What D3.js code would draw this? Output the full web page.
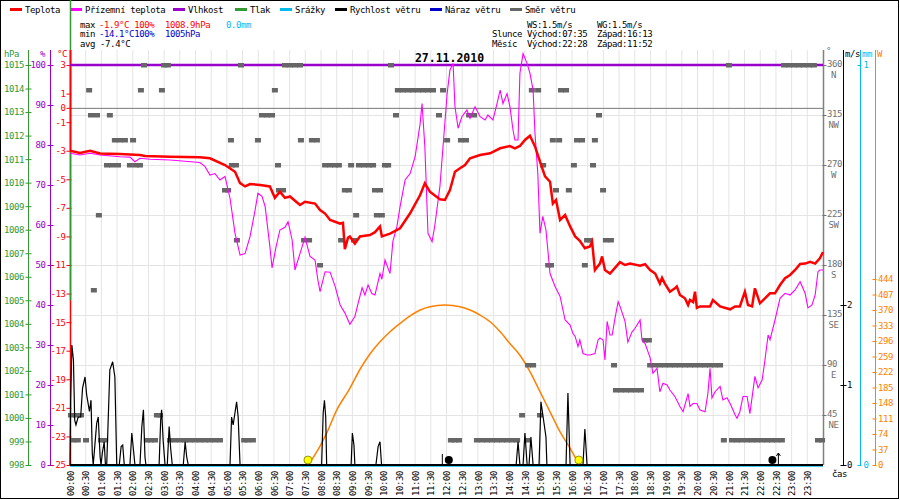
<!DOCTYPE html>
<html>
<head>
<meta charset="utf-8">
<script src="https://cdn.jsdelivr.net/npm/d3@7"></script>
<style>
body { margin: 0; background: #fff; overflow: hidden; }
svg { display: block; }
svg text { font-family: "DejaVu Sans Mono", monospace; font-size: 9px; letter-spacing: -0.4px; }
</style>
</head>
<body>
<div id="chart"></div>
<script>
// series as [hour of day, value]
var temperature = [[0,-3.0],[0.32,-3.16],[0.64,-3.0],[0.96,-3.2],[1.59,-3.23],[2.23,-3.3],[2.39,-3.37],[3.19,-3.42],[4.14,-3.46],[4.46,-3.53],
  [4.94,-4.0],[5.26,-4.47],[5.42,-5.27],[5.58,-5.5],[5.74,-5.33],[6.06,-5.4],[6.37,-5.5],[6.53,-6.3],[6.69,-5.87],[6.85,-6.3],
  [7.01,-6.2],[7.33,-6.8],[7.49,-6.57],[7.81,-6.7],[7.97,-7.15],[8.13,-7.4],[8.29,-7.85],[8.45,-7.97],[8.61,-8.1],[8.70,-8.05],
  [8.76,-9.9],[8.86,-9.1],[8.92,-9.0],[9.08,-9.5],[9.24,-9.0],[9.56,-8.9],[9.72,-8.7],[9.88,-8.3],[9.94,-9.0],[10.20,-8.8],
  [10.52,-8.43],[10.84,-7.38],[11.16,-6.1],[11.31,-5.28],[11.47,-5.87],[11.79,-6.4],[11.95,-6.45],[12.11,-5.75],[12.27,-4.47],[12.43,-4.23],
  [12.59,-4.0],[12.75,-3.53],[13.07,-3.3],[13.39,-3.18],[13.71,-2.83],[14.02,-2.67],[14.18,-2.83],[14.34,-2.67],[14.50,-2.25],[14.66,-1.95],
  [14.82,-2.7],[14.98,-3.77],[15.14,-4.8],[15.30,-5.17],[15.39,-6.7],[15.49,-6.45],[15.62,-7.85],[15.78,-7.5],[15.94,-8.3],[16.10,-9.0],
  [16.25,-9.3],[16.41,-9.83],[16.57,-9.7],[16.64,-9.37],[16.73,-11.35],[16.89,-10.9],[16.96,-10.4],[17.05,-11.35],[17.21,-11.6],[17.37,-11.2],
  [17.53,-10.8],[17.69,-11.0],[17.85,-10.9],[18.17,-11.05],[18.33,-10.95],[18.49,-11.35],[18.65,-11.6],[18.80,-12.3],[18.87,-11.9],[18.96,-12.3],
  [19.12,-12.87],[19.28,-12.63],[19.34,-12.5],[19.44,-13.1],[19.60,-13.33],[19.70,-13.8],[19.76,-13.45],[19.86,-13.6],[19.92,-12.87],[19.98,-14.0],
  [20.08,-13.9],[20.40,-13.9],[20.49,-13.45],[20.72,-13.9],[21.04,-14.1],[21.20,-13.9],[21.35,-13.9],[21.51,-12.87],[21.61,-13.8],[21.74,-13.9],
  [21.83,-12.63],[21.99,-13.68],[22.15,-13.33],[22.31,-12.98],[22.47,-12.98],[22.63,-12.4],[22.79,-11.93],[22.95,-11.7],[23.11,-11.35],[23.27,-10.93],
  [23.43,-10.9],[23.59,-10.77],[23.75,-10.9],[23.90,-10.53],[24.00,-10.1]];

var feelsLike = [[0,-3.18],[0.32,-3.3],[0.64,-3.18],[0.96,-3.3],[1.59,-3.42],[1.91,-3.45],[2.07,-3.77],[2.23,-3.53],[2.55,-3.6],[3.19,-3.65],
  [4.14,-3.83],[4.30,-4.1],[4.46,-4.7],[4.62,-4.6],[4.78,-5.05],[4.94,-4.8],[5.10,-6.33],[5.26,-8.78],[5.42,-10.3],[5.58,-10.2],
  [5.74,-9.0],[5.90,-7.15],[5.99,-5.98],[6.12,-6.2],[6.22,-6.92],[6.37,-9.7],[6.44,-11.2],[6.57,-9.7],[6.69,-8.55],[6.85,-8.36],
  [6.95,-7.97],[7.08,-9.25],[7.17,-11.35],[7.33,-10.2],[7.49,-9.06],[7.65,-10.4],[7.81,-10.65],[7.90,-12.05],[7.97,-12.87],[8.13,-11.47],
  [8.29,-11.5],[8.45,-12.5],[8.61,-13.8],[8.76,-14.35],[8.92,-15.15],[9.08,-14.6],[9.18,-13.7],[9.31,-12.6],[9.40,-13.1],[9.50,-12.4],
  [9.62,-13.0],[9.72,-13.1],[9.88,-11.6],[9.94,-12.0],[10.04,-10.65],[10.20,-11.6],[10.29,-9.37],[10.42,-8.3],[10.52,-6.92],[10.68,-5.05],
  [10.84,-4.6],[11.00,-3.42],[11.16,-1.1],[11.22,0.3],[11.31,-2.7],[11.41,-8.78],[11.54,-9.37],[11.63,-8.2],[11.79,-5.5],[11.89,-2.7],
  [12.02,1.0],[12.11,2.65],[12.21,3.1],[12.27,0.08],[12.37,-1.43],[12.49,-0.62],[12.65,-0.15],[12.75,-0.73],[12.91,0.08],[13.07,-0.62],
  [13.23,-0.85],[13.32,-0.5],[13.48,-0.85],[13.61,0.3],[13.71,1.25],[13.80,0.3],[13.93,1.0],[14.02,0.1],[14.12,-1.55],[14.18,-2.25],
  [14.28,-2.25],[14.34,2.42],[14.44,3.8],[14.57,3.1],[14.66,2.42],[14.76,1.25],[14.82,-1.78],[14.91,-4.58],[14.98,-8.78],[15.07,-7.6],
  [15.17,-8.55],[15.30,-11.6],[15.46,-12.5],[15.62,-13.2],[15.78,-14.85],[15.94,-15.2],[16.03,-15.8],[16.10,-16.0],[16.19,-16.7],[16.25,-16.25],
  [16.35,-17.2],[16.48,-17.3],[16.57,-17.3],[16.73,-17.2],[16.83,-16.25],[16.89,-16.1],[16.99,-16.25],[17.05,-17.65],[17.12,-14.95],[17.21,-15.9],
  [17.28,-15.9],[17.37,-14.73],[17.47,-13.57],[17.53,-13.9],[17.69,-14.95],[17.78,-16.4],[17.91,-15.7],[18.01,-15.43],[18.17,-14.85],[18.23,-16.25],
  [18.33,-16.5],[18.49,-17.5],[18.58,-18.58],[18.71,-18.23],[18.80,-19.87],[18.90,-19.28],[19.03,-19.4],[19.12,-19.75],[19.28,-20.2],[19.44,-20.9],
  [19.54,-21.27],[19.70,-20.0],[19.76,-20.9],[19.86,-20.7],[19.98,-20.7],[20.08,-21.15],[20.24,-21.27],[20.33,-20.0],[20.40,-18.23],[20.46,-20.3],
  [20.56,-19.87],[20.72,-19.5],[20.81,-20.45],[20.94,-20.3],[21.04,-20.7],[21.20,-21.5],[21.26,-21.73],[21.35,-21.27],[21.45,-20.2],[21.58,-20.2],
  [21.67,-21.4],[21.83,-18.8],[21.93,-19.6],[22.06,-19.05],[22.15,-17.65],[22.25,-15.9],[22.31,-16.25],[22.47,-14.85],[22.63,-13.33],[22.79,-12.98],
  [22.95,-13.1],[23.11,-12.75],[23.27,-12.17],[23.43,-12.98],[23.52,-14.0],[23.65,-13.8],[23.75,-13.1],[23.84,-11.47],[23.90,-11.35],[24.00,-11.35]];

var humidity = [[0,100],[24,100]];
var rain = [[0,0],[24,0]];
var pressureStart = [0, 1005];

var windSpeed = [[0,0],[0.02,0.81],[0.06,1.5],[0.11,1.31],[0.15,0.56],[0.19,0.5],[0.26,0.6],[0.34,0.6],[0.40,0.96],[0.48,1.1],
  [0.53,0.88],[0.62,0.67],[0.67,0.81],[0.71,0.15],[0.74,0],[0.85,0.52],[0.90,0.6],[0.96,0.1],[0.99,0],[1.03,0.15],
  [1.09,0.29],[1.13,0],[1.17,0],[1.27,1.19],[1.36,1.29],[1.43,1.1],[1.49,0],[1.57,0],[1.63,0.23],[1.68,0.25],
  [1.73,0],[1.91,0],[1.97,0.4],[2.02,0.2],[2.07,0],[2.23,0],[2.29,0.48],[2.34,0.69],[2.39,0.1],[2.42,0],
  [2.84,0],[2.89,0.56],[2.92,0.69],[2.97,0.3],[3.03,0],[3.10,0],[3.16,0.48],[3.21,0.2],[3.26,0],[3.61,0],
  [3.67,0.29],[3.72,0.1],[3.77,0],[5.10,0],[5.15,0.6],[5.20,0.5],[5.31,0.79],[5.36,0.6],[5.42,0],[8.02,0],
  [8.07,0.65],[8.11,0.81],[8.15,0.6],[8.18,0],[8.96,0],[9.00,0.4],[9.05,0.25],[9.08,0],[9.75,0],[9.82,0.23],
  [9.88,0.29],[9.93,0],[14.22,0],[14.28,0.29],[14.34,0],[14.44,0],[14.50,0.4],[14.57,0],[14.63,0],[14.69,0.35],
  [14.76,0],[14.95,0],[15.01,0.79],[15.08,0.6],[15.17,0.35],[15.20,0],[15.81,0],[15.87,0.9],[15.94,0],[16.35,0],
  [16.41,0.45],[16.48,0],[24,0]];

var windDir = [[0.03,45],[0.10,22.5],[0.19,45],[0.25,22.5],[0.35,45],[0.51,22.5],[0.61,337.5],[0.67,315],[0.76,157.5],[0.86,315],
  [0.92,225],[0.99,22.5],[1.12,22.5],[1.18,270],[1.27,315],[1.34,270],[1.43,292.5],[1.53,270],[1.59,292.5],[1.75,292.5],
  [1.91,270],[2.01,292.5],[2.10,270],[2.23,270],[2.26,337.5],[2.36,360],[2.45,22.5],[2.58,22.5],[2.71,22.5],[2.77,45],
  [2.87,45],[2.93,337.5],[3.00,360],[3.12,360],
  [3.19,22.5],[3.35,22.5],[3.51,22.5],[3.67,22.5],[3.82,22.5],[3.98,22.5],[4.14,22.5],[4.30,22.5],[4.46,22.5],[4.62,22.5],[4.78,22.5],
  [4.94,247.5],[5.04,247.5],[5.13,292.5],[5.16,270],[5.29,270],[5.32,202.5],[5.45,360],[5.55,22.5],[5.67,22.5],[5.83,22.5],
  [5.99,292.5],[6.12,315],[6.28,315],[6.44,315],[6.53,337.5],[6.63,270],[6.66,247.5],[6.79,247.5],[6.85,360],[7.01,360],
  [7.17,360],[7.33,360],[7.36,292.5],[7.46,202.5],[7.62,202.5],[7.71,292.5],[7.87,292.5],[7.97,180],[8.13,270],[8.29,270],
  [8.45,270],[8.57,270],[8.64,202.5],[8.76,247.5],[8.89,247.5],[8.96,270],[9.05,202.5],[9.12,225],[9.21,270],[9.37,270],
  [9.53,270],[9.66,270],[9.72,247.5],[9.78,225],[9.88,247.5],[9.94,225],[10.04,270],[10.14,270],[10.23,360],[10.39,315],
  [10.45,337.5],[10.61,337.5],[10.77,337.5],[10.93,337.5],[11.09,337.5],[11.25,337.5],[11.41,337.5],[11.57,337.5],
  [11.76,315],[11.89,337.5],[12.02,292.5],[12.14,22.5],[12.27,22.5],[12.40,22.5],[12.46,292.5],[12.62,292.5],[12.72,315],[12.88,315],
  [12.97,22.5],[13.13,22.5],[13.29,22.5],[13.45,22.5],[13.61,22.5],[13.77,22.5],[13.93,22.5],[14.09,22.5],[14.25,22.5],
  [14.41,45],[14.57,22.5],[14.60,90],[14.72,337.5],[14.76,90],[14.92,337.5],[14.98,45],[15.08,270],[15.24,180],[15.33,180],
  [15.39,292.5],[15.49,247.5],[15.59,292.5],[15.65,337.5],[15.81,337.5],[15.90,247.5],[16.06,270],[16.16,292.5],[16.32,292.5],[16.41,180],
  [16.48,202.5],[16.57,202.5],[16.67,270],[16.73,292.5],[16.86,315],[16.99,247.5],[17.08,202.5],[17.24,202.5],[17.34,90],
  [17.40,67.5],[17.56,67.5],[17.72,67.5],[17.88,67.5],[18.04,67.5],[18.20,67.5],[18.33,112.5],[18.45,112.5],
  [18.49,90],[18.65,90],[18.80,90],[18.96,90],[19.12,90],[19.28,90],[19.44,90],[19.60,90],[19.76,90],[19.92,90],
  [20.08,90],[20.24,90],[20.40,90],[20.56,90],[20.72,90],[20.84,22.5],[21.00,360],
  [21.10,22.5],[21.26,22.5],[21.41,22.5],[21.58,22.5],[21.74,22.5],[21.90,22.5],[22.06,22.5],[22.22,22.5],[22.37,22.5],[22.53,22.5],[22.69,22.5],
  [22.76,360],[22.92,360],[23.08,360],[23.24,360],[23.39,360],[23.55,360],[23.71,360],[23.84,22.5],[23.97,22.5]];

var solar = [[7.59,0],[7.81,25],[7.97,45],[8.18,76],[8.50,131],[8.92,183],[9.24,228],[9.56,265],[9.88,294],[10.20,318],
  [10.52,338],[10.84,356],[11.16,370],[11.47,378],[11.95,382],[12.43,378],[12.75,370],[13.07,358],[13.39,342],[13.71,318],
  [14.02,290],[14.34,262],[14.66,223],[14.98,175],[15.30,127],[15.62,79],[15.94,40],[16.19,5],[16.22,0]];

var sunTimes = ["07:35", "16:13"];
var moonRise = "22:28", moonSet = "11:52";

// tick labels
var pressTicks = [998,999,1000,1001,1002,1003,1004,1005,1006,1007,1008,1009,1010,1011,1012,1013,1014,1015];
var humTicks = [0,10,20,30,40,50,60,70,80,90,100];
var tempTicks = [3,1,0,-1,-3,-5,-7,-9,-11,-13,-15,-17,-19,-21,-23,-25];
var dirTicks = [45,90,135,180,225,270,315,360];
var dirNames = ["NE","E","SE","S","SW","W","NW","N"];
var windTicks = [0,1,2];
var rainTicks = [0,1];
var solarTicks = [0,37,74,111,148,185,222,259,296,333,370,407,444];
var timeTicks = d3.range(0, 24, 0.5);

var legendNames = ["Teplota","Přízemní teplota","Vlhkost","Tlak","Srážky","Rychlost větru","Náraz větru","Směr větru"];

var RED = "#ff0000", MAG = "#ff00ff", PURP = "#9900cc", GREEN = "#339933", CYAN = "#00bbee",
    BLUE = "#0000cc", GRAY = "#666666", ORANGE = "#ff8000";
var legendColors = [RED, MAG, PURP, GREEN, CYAN, "#000", BLUE, GRAY];

var plotTop = 65, plotBottom = 465;

var svg = d3.select("#chart").append("svg")
    .attr("width", 900)
    .attr("height", 500);

svg.append("rect").attr("x", 0.5).attr("y", 0.5).attr("width", 898).attr("height", 498)
    .attr("fill", "#fff").attr("stroke", "#000");

// scales
var x = d3.scaleLinear().domain([0, 24]).range([70, 823]);
var yTemp = d3.scaleLinear().domain([-25, 3]).range([plotBottom, plotTop]);
var yHum = d3.scaleLinear().domain([0, 100]).range([plotBottom, plotTop]);
var yPress = d3.scaleLinear().domain([998, 1015]).range([plotBottom, plotTop]);
var yDir = d3.scaleLinear().domain([0, 360]).range([plotBottom, plotTop]);
var yWind = d3.scaleLinear().domain([0, 5]).range([plotBottom, plotTop]);
var yRain = d3.scaleLinear().domain([0, 1]).range([plotBottom, plotTop]);
var ySolar = d3.scaleLinear().domain([0, 955]).range([plotBottom, plotTop]);

function hm(s) { var p = s.split(":"); return +p[0] + p[1] / 60; }

// grid
svg.append("g").selectAll("line").data(timeTicks.slice(1)).enter().append("line")
    .attr("x1", function(d) { return x(d); }).attr("x2", function(d) { return x(d); })
    .attr("y1", 50).attr("y2", plotBottom)
    .attr("stroke", "#e4e4e4");
svg.append("g").selectAll("line").data(dirTicks.slice(0, 7)).enter().append("line")
    .attr("x1", x(0)).attr("x2", x(24))
    .attr("y1", function(d) { return yDir(d) + 0.5; }).attr("y2", function(d) { return yDir(d) + 0.5; })
    .attr("stroke", "#e4e4e4");
svg.append("line").attr("x1", x(0)).attr("x2", x(24))
    .attr("y1", yTemp(0) + 0.5).attr("y2", yTemp(0) + 0.5)
    .attr("stroke", "#777");

// axis lines
function vline(xx, y1, y2, col, w) {
  svg.append("line").attr("x1", xx).attr("x2", xx).attr("y1", y1).attr("y2", y2)
    .attr("stroke", col).attr("stroke-width", w || 1);
}
vline(28.5, 50, plotBottom, GREEN);
vline(50.5, 50, plotBottom, PURP);
vline(70.5, 50, plotBottom, RED, 1.5);
vline(823.5, 50, plotBottom, "#808080", 1.5);
vline(843.5, 50, plotBottom, "#000");
vline(860.5, 50, plotBottom, CYAN);
vline(875.5, 50, plotBottom, ORANGE);

function styleAxis(g, col, x1, x2) {
  g.select(".domain").remove();
  g.selectAll(".tick line").attr("stroke", col).attr("x1", x1).attr("x2", x2);
  g.selectAll(".tick text").attr("fill", col);
}

svg.append("g").attr("transform", "translate(28.5,0)")
    .call(d3.axisLeft(yPress).tickValues(pressTicks).tickSize(3).tickPadding(1.5).tickFormat(String))
    .call(styleAxis, GREEN, -3, 3);
svg.append("g").attr("transform", "translate(50.5,0)")
    .call(d3.axisLeft(yHum).tickValues(humTicks).tickSize(3).tickPadding(2).tickFormat(String))
    .call(styleAxis, PURP, -3, 3);
svg.append("g").attr("transform", "translate(70.5,0)")
    .call(d3.axisLeft(yTemp).tickValues(tempTicks).tickSize(3).tickPadding(2).tickFormat(String))
    .call(styleAxis, RED, -4, 1);

var dirAxis = svg.append("g").attr("transform", "translate(823.5,0)")
    .call(d3.axisRight(yDir).tickValues(dirTicks).tickSize(3).tickPadding(0.5).tickFormat(String))
    .call(styleAxis, "#707070", -1, 3);
dirAxis.selectAll(".tick text").attr("dy", "0.2em");
dirAxis.selectAll(".tick").append("text")
    .attr("x", 10).attr("y", 9.5).attr("dy", "0.32em")
    .attr("text-anchor", "middle").attr("fill", "#707070")
    .text(function(d) { return dirNames[dirTicks.indexOf(d)]; });

svg.append("g").attr("transform", "translate(843.5,0)")
    .call(d3.axisRight(yWind).tickValues(windTicks).tickSize(3).tickPadding(0.5).tickFormat(String))
    .call(styleAxis, "#000", -3, 3);
svg.append("g").attr("transform", "translate(860.5,0)")
    .call(d3.axisRight(yRain).tickValues(rainTicks).tickSize(1).tickPadding(2).tickFormat(String))
    .call(styleAxis, CYAN, -3, 1);
svg.append("g").attr("transform", "translate(875.5,0)")
    .call(d3.axisRight(ySolar).tickValues(solarTicks).tickSize(1).tickPadding(1.5).tickFormat(String))
    .call(styleAxis, ORANGE, -3, 1);

// time axis, labels turned upright
svg.append("g").attr("transform", "translate(0,471)")
    .call(d3.axisBottom(x).tickValues(timeTicks).tickSize(0)
      .tickFormat(function(h) {
        var hh = Math.floor(h);
        return (hh < 10 ? "0" : "") + hh + ":" + (h % 1 ? "30" : "00");
      }))
    .call(function(g) {
      g.select(".domain").remove();
      g.selectAll(".tick text")
        .attr("transform", "rotate(-90)")
        .attr("x", 0).attr("y", 0).attr("dy", "0.35em")
        .attr("text-anchor", "end").attr("fill", "#000");
    });

// axis titles
function label(t, xx, yy, col, extra) {
  var el = svg.append("text").attr("x", xx).attr("y", yy).attr("fill", col || "#000").text(t);
  if (extra) extra(el);
  return el;
}
label("hPa", 4, 57, GREEN);
label("%", 40, 57, PURP);
label("°C", 57, 57, RED);
label("°", 826, 54, "#707070");
label("m/s", 845, 57, "#000");
label("mm", 862, 57, CYAN);
label("W", 877, 57, ORANGE);
label("čas", 832, 477, "#000");

// legend
var legX = [10, 70, 173, 235, 280, 335, 430, 510];
legendNames.forEach(function(n, i) {
  svg.append("line").attr("x1", legX[i]).attr("x2", legX[i] + 12).attr("y1", 9.5).attr("y2", 9.5)
    .attr("stroke", legendColors[i]).attr("stroke-width", 3);
  label(n, legX[i] + 15, 12.5, "#000");
});

// stats text
label("max", 80, 27.5);
label("-1.9°C 100%", 99, 27.5, RED);
label("1008.9hPa", 165, 27.5, RED);
label("0.0mm", 226, 27.5, CYAN);
label("min", 80, 37);
label("-14.1°C100%", 99, 37, BLUE);
label("1005hPa", 165, 37, BLUE);
label("avg -7.4°C", 80, 47);
label("WS:1.5m/s", 527, 27.5);
label("WG:1.5m/s", 597, 27.5);
label("Slunce", 492, 37);
label("Východ:" + sunTimes[0], 527, 37);
label("Západ:" + sunTimes[1], 597, 37);
label("Měsíc", 492, 47);
label("Východ:" + moonRise, 527, 47);
label("Západ:" + moonSet, 597, 47);

label("27.11.2010", 449.5, 61.5, "#000", function(el) {
  el.attr("text-anchor", "middle").style("font-size", "11.5px")
    .style("font-weight", "bold").style("letter-spacing", "0px");
});

// pressure start spike and temperature start
svg.append("line").attr("x1", x(pressureStart[0]) + 0.5).attr("x2", x(pressureStart[0]) + 0.5)
    .attr("y1", yPress(pressureStart[1])).attr("y2", 0)
    .attr("stroke", GREEN).attr("stroke-width", 1.5);
vline(70.5, 50, yTemp(temperature[0][1]), RED, 1.5);

// solar radiation
svg.append("path").datum(solar)
    .attr("fill", "none").attr("stroke", ORANGE).attr("stroke-width", 1.5)
    .attr("d", d3.line().curve(d3.curveMonotoneX)
      .x(function(d) { return x(d[0]); }).y(function(d) { return ySolar(d[1]); }));

// humidity
svg.append("path").datum(humidity)
    .attr("fill", "none").attr("stroke", PURP).attr("stroke-width", 2.5)
    .attr("d", d3.line().x(function(d) { return x(d[0]); }).y(function(d) { return yHum(d[1]); }));

// wind direction
svg.append("g").selectAll("rect").data(windDir).enter().append("rect")
    .attr("x", function(d) { return x(d[0]) - 3; })
    .attr("y", function(d) { return yDir(d[1]) - 2; })
    .attr("width", 6).attr("height", 4.5)
    .attr("fill", GRAY);

// apparent temperature
svg.append("path").datum(feelsLike)
    .attr("fill", "none").attr("stroke", MAG).attr("stroke-width", 1.1)
    .attr("d", d3.line().x(function(d) { return x(d[0]); }).y(function(d) { return yTemp(d[1]); }));

// temperature
svg.append("path").datum(temperature)
    .attr("fill", "none").attr("stroke", RED).attr("stroke-width", 2.5)
    .attr("d", d3.line().x(function(d) { return x(d[0]); }).y(function(d) { return yTemp(d[1]); }));

// precipitation and base line
svg.append("path").datum(rain)
    .attr("fill", "none").attr("stroke", CYAN).attr("stroke-width", 1.5)
    .attr("d", d3.line().x(function(d) { return x(d[0]); }).y(function(d) { return yRain(d[1]) + 1; }));
svg.append("line").attr("x1", x(0)).attr("x2", x(24)).attr("y1", plotBottom).attr("y2", plotBottom)
    .attr("stroke", "#000").attr("stroke-width", 2);

// wind speed
svg.append("path").datum(windSpeed)
    .attr("fill", "none").attr("stroke", "#000").attr("stroke-width", 1.2)
    .attr("d", d3.line().x(function(d) { return x(d[0]); }).y(function(d) { return yWind(d[1]); }));

// sun and moon markers
sunTimes.forEach(function(t) {
  svg.append("circle").attr("cx", x(hm(t))).attr("cy", 460).attr("r", 4)
    .attr("fill", "#ffff00").attr("stroke", "#7a7a00").attr("stroke-width", 0.8);
});
var ms = x(hm(moonSet));
svg.append("line").attr("x1", ms).attr("x2", ms).attr("y1", 454).attr("y2", 465).attr("stroke", "#000");
svg.append("circle").attr("cx", ms + 6.5).attr("cy", 460).attr("r", 4).attr("fill", "#000");
var mr = x(hm(moonRise));
svg.append("circle").attr("cx", mr - 2.5).attr("cy", 460).attr("r", 4).attr("fill", "#000");
svg.append("path").attr("d", "M" + (mr + 3.5) + ",465V453M" + (mr + 1.5) + ",456L" + (mr + 3.5) + ",453L" + (mr + 5.5) + ",456")
    .attr("fill", "none").attr("stroke", "#000");
</script>
</body>
</html>
